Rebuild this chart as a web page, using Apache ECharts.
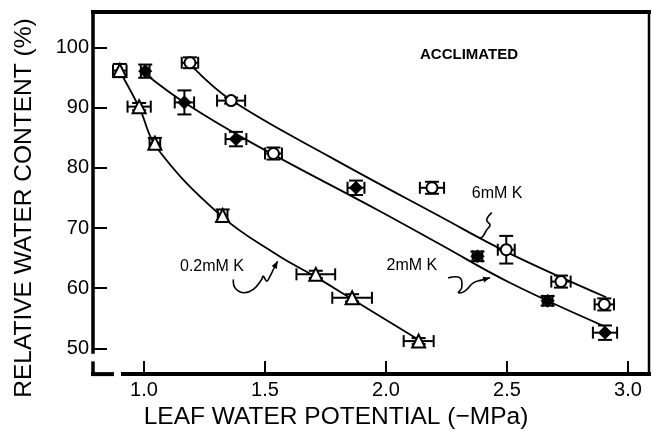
<!DOCTYPE html>
<html>
<head>
<meta charset="utf-8">
<script src="https://cdn.jsdelivr.net/npm/echarts@6/dist/echarts.min.js"></script>
<style>
  html, body { margin: 0; padding: 0; background: #fff; }
  #main { width: 653px; height: 435px; }
</style>
</head>
<body>
<div id="main"></div>
<script>
// ---- Measured points: leaf water potential (-MPa) vs relative water content (%) ----
// 0.2 mM K (open triangles)
const lwp02   = [0.90, 0.98, 1.045, 1.325, 1.71, 1.86, 2.135];
const rwc02   = [96.2, 90.2, 84.1, 72.1, 62.3, 58.4, 51.2];
const lwpErr02 = [0.028, 0.048, 0.022, 0.02, 0.08, 0.082, 0.062];
const rwcErr02 = [1.1, 0.6, 0.9, 1.0, 0.6, 0.6, 0.5];

// 2 mM K (filled diamonds; the fourth point is printed as an open circle)
const lwp2   = [1.005, 1.167, 1.38, 1.535, 1.876, 2.378, 2.668, 2.905];
const rwc2   = [96.1, 90.9, 84.8, 82.4, 76.7, 65.3, 57.9, 52.6];
const lwpErr2 = [0.018, 0.04, 0.043, 0.035, 0.035, 0.02, 0.02, 0.05];
const rwcErr2 = [1.1, 2.0, 1.2, 1.0, 1.2, 0.8, 0.8, 1.2];

// 6 mM K (open circles)
const lwp6   = [1.19, 1.36, 2.19, 2.497, 2.723, 2.902];
const rwc6   = [97.5, 91.2, 76.7, 66.4, 61.1, 57.3];
const lwpErr6 = [0.034, 0.058, 0.05, 0.035, 0.04, 0.04];
const rwcErr6 = [0.9, 0.5, 1.0, 2.3, 1.0, 1.0];

// ---- Fitted curves ----
const fitX02 = [0.908, 0.983, 1.052, 1.314, 1.548, 1.713, 1.851, 2.14];
const fitY02 = [95.5, 89.8, 83.4, 72.2, 65.6, 61.8, 58.4, 51.3];
const fitX2  = [1.01, 1.17, 1.44, 1.975, 2.223, 2.512, 2.90];
const fitY2  = [95.5, 90.8, 84.3, 72.8, 67.3, 60.9, 53.7];
const fitX6  = [1.204, 1.36, 1.77, 2.22, 2.51, 2.91];
const fitY6  = [96.7, 91.3, 81.8, 72.0, 65.8, 58.5];

// ---- Axis ticks ----
const xTicks = [1.0, 1.5, 2.0, 2.5, 3.0];
const yTicks = [50, 60, 70, 80, 90, 100];

// ---- Text labels and their hand-drawn pointer strokes (data units) ----
const labelTexts = ['ACCLIMATED', '6mM K', '2mM K', '0.2mM K'];
const labelAtX   = [2.343, 2.459, 2.107, 1.281];
const labelAtY   = [98.84, 75.74, 63.70, 63.53];

const squiggle6X  = [2.437, 2.416, 2.430, 2.416, 2.400, 2.388];
const squiggle6Y  = [72.56, 71.34, 70.51, 69.69, 68.60, 68.32];
const squiggle2X  = [2.257, 2.306, 2.313, 2.299, 2.326, 2.361, 2.395, 2.430];
const squiggle2Y  = [61.72, 61.72, 60.07, 59.24, 59.52, 60.89, 61.34, 61.72];
const squiggle02X = [1.369, 1.376, 1.410, 1.452, 1.486, 1.493, 1.507, 1.521, 1.541, 1.552];
const squiggle02Y = [61.44, 60.07, 59.24, 59.79, 61.44, 62.00, 61.17, 62.00, 63.65, 64.47];

// ---- Chart ----
const X_MIN = 0.7893, X_MAX = 3.0868;
const Y_MIN = 45.71, Y_MAX = 105.94;
const FONT = '"Liberation Sans", Arial, Helvetica, sans-serif';
const INK = '#000';

const zip = (a, b) => a.map((v, i) => [v, b[i]]);

function errorBars(name, xs, ys, xe, ye) {
  return {
    name: name + ' error',
    type: 'custom',
    z: 3,
    silent: true,
    data: xs.map((x, i) => [x, ys[i], xe[i], ye[i]]),
    encode: { x: 0, y: 1 },
    renderItem(params, api) {
      const x = api.value(0), y = api.value(1), dx = api.value(2), dy = api.value(3);
      const c = api.coord([x, y]);
      const l = api.coord([x - dx, y]), r = api.coord([x + dx, y]);
      const t = api.coord([x, y + dy]), b = api.coord([x, y - dy]);
      const capX = 6, capY = 7;
      const style = { stroke: INK, lineWidth: 2, fill: null };
      const seg = (x1, y1, x2, y2) => ({ type: 'line', shape: { x1, y1, x2, y2 }, style });
      return {
        type: 'group',
        children: [
          seg(l[0], c[1], r[0], c[1]),
          seg(l[0], c[1] - capX, l[0], c[1] + capX),
          seg(r[0], c[1] - capX, r[0], c[1] + capX),
          seg(c[0], t[1], c[0], b[1]),
          seg(c[0] - capY, t[1], c[0] + capY, t[1]),
          seg(c[0] - capY, b[1], c[0] + capY, b[1])
        ]
      };
    }
  };
}

function fitLine(name, xs, ys) {
  return {
    name: name + ' fit',
    type: 'line',
    z: 2,
    silent: true,
    data: zip(xs, ys),
    showSymbol: false,
    symbol: 'none',
    smooth: 0.4,
    lineStyle: { color: INK, width: 1.8 }
  };
}

const openStyle = { color: '#fff', borderColor: INK, borderWidth: 2, opacity: 1 };
const filledStyle = { color: INK, borderColor: INK, borderWidth: 1, opacity: 1 };
const OPEN_POINT_2MM = 3;

const chart = echarts.init(document.getElementById('main'), null, { renderer: 'canvas' });

chart.setOption({
  animation: false,
  backgroundColor: '#fff',
  grid: { left: 93, right: 4, top: 12, bottom: 58 },
  xAxis: {
    type: 'value',
    min: X_MIN, max: X_MAX,
    axisLine: { show: false },
    splitLine: { show: false },
    axisTick: { show: true, inside: true, length: 13, customValues: xTicks, lineStyle: { color: INK, width: 2 } },
    axisLabel: {
      customValues: xTicks,
      formatter: v => v.toFixed(1),
      fontFamily: FONT, fontSize: 20, color: INK, margin: 6
    },
    name: 'LEAF WATER POTENTIAL (\u2212MPa)',
    nameLocation: 'middle',
    nameGap: 30,
    nameTextStyle: { fontFamily: FONT, fontSize: 24.5, color: INK, padding: [0, 70, 0, 0] }
  },
  yAxis: {
    type: 'value',
    min: Y_MIN, max: Y_MAX,
    axisLine: { show: false },
    splitLine: { show: false },
    axisTick: { show: true, inside: true, length: 14, customValues: yTicks, lineStyle: { color: INK, width: 2 } },
    axisLabel: {
      customValues: yTicks,
      fontFamily: FONT, fontSize: 20, color: INK, margin: 4
    },
    name: 'RELATIVE WATER CONTENT (%)',
    nameLocation: 'middle',
    nameGap: 56,
    nameTextStyle: { fontFamily: FONT, fontSize: 24.5, color: INK, padding: [0, 30, 0, 0] }
  },
  series: [
    fitLine('0.2mM K', fitX02, fitY02),
    fitLine('2mM K', fitX2, fitY2),
    fitLine('6mM K', fitX6, fitY6),
    errorBars('0.2mM K', lwp02, rwc02, lwpErr02, rwcErr02),
    errorBars('2mM K', lwp2, rwc2, lwpErr2, rwcErr2),
    errorBars('6mM K', lwp6, rwc6, lwpErr6, rwcErr6),
    {
      name: '0.2mM K', type: 'scatter', z: 4, silent: true,
      data: zip(lwp02, rwc02),
      symbol: 'triangle', symbolSize: 13,
      itemStyle: openStyle
    },
    {
      name: '2mM K', type: 'scatter', z: 4, silent: true,
      data: zip(lwp2, rwc2).map((p, i) => i === OPEN_POINT_2MM
        ? { value: p, symbol: 'circle', symbolSize: 11, itemStyle: openStyle }
        : { value: p }),
      symbol: 'diamond', symbolSize: 13,
      itemStyle: filledStyle
    },
    {
      name: '6mM K', type: 'scatter', z: 4, silent: true,
      data: zip(lwp6, rwc6),
      symbol: 'circle', symbolSize: 11,
      itemStyle: openStyle
    }
  ]
});

// ---- Frame, labels and pointer strokes ----
const px = (x, y) => chart.convertToPixel({ gridIndex: 0 }, [x, y]);
const [L, T] = px(X_MIN, Y_MAX);
const [R, B] = px(X_MAX, Y_MIN);

const frameLine = (x1, y1, x2, y2, w) => ({
  type: 'line', silent: true, z: 10,
  shape: { x1, y1, x2, y2 },
  style: { stroke: INK, lineWidth: w, lineCap: 'square' }
});

const graphics = [
  frameLine(L, T, R, T, 4),
  frameLine(R, T, R, B, 2.5),
  frameLine(L, T, L, B - 22, 3.5),
  frameLine(L, B - 11, L, B, 3.5),
  frameLine(L, B, L + 19, B, 4),
  frameLine(L + 30, B, R, B, 4)
];

labelTexts.forEach((txt, i) => {
  const [cx, cy] = px(labelAtX[i], labelAtY[i]);
  graphics.push({
    type: 'text', silent: true, z: 10,
    x: cx, y: cy,
    style: {
      text: txt, fill: INK,
      font: (i === 0 ? 'bold 15px ' : '16px ') + FONT,
      align: 'center', verticalAlign: 'middle'
    }
  });
});

function pointer(xs, ys, withHead) {
  const pts = xs.map((x, i) => px(x, ys[i]));
  graphics.push({
    type: 'polyline', silent: true, z: 10,
    shape: { points: pts, smooth: 0.4 },
    style: { stroke: INK, lineWidth: 1.6, fill: null }
  });
  if (withHead) {
    const tip = pts[pts.length - 1], prev = pts[pts.length - 2];
    const ang = Math.atan2(tip[1] - prev[1], tip[0] - prev[0]);
    const len = 7, half = 3;
    const bx = tip[0] - len * Math.cos(ang), by = tip[1] - len * Math.sin(ang);
    graphics.push({
      type: 'polygon', silent: true, z: 10,
      shape: { points: [
        tip,
        [bx + half * Math.sin(ang), by - half * Math.cos(ang)],
        [bx - half * Math.sin(ang), by + half * Math.cos(ang)]
      ] },
      style: { fill: INK }
    });
  }
}
pointer(squiggle6X, squiggle6Y, false);
pointer(squiggle2X, squiggle2Y, true);
pointer(squiggle02X, squiggle02Y, true);

chart.setOption({ graphic: graphics });
</script>
</body>
</html>
